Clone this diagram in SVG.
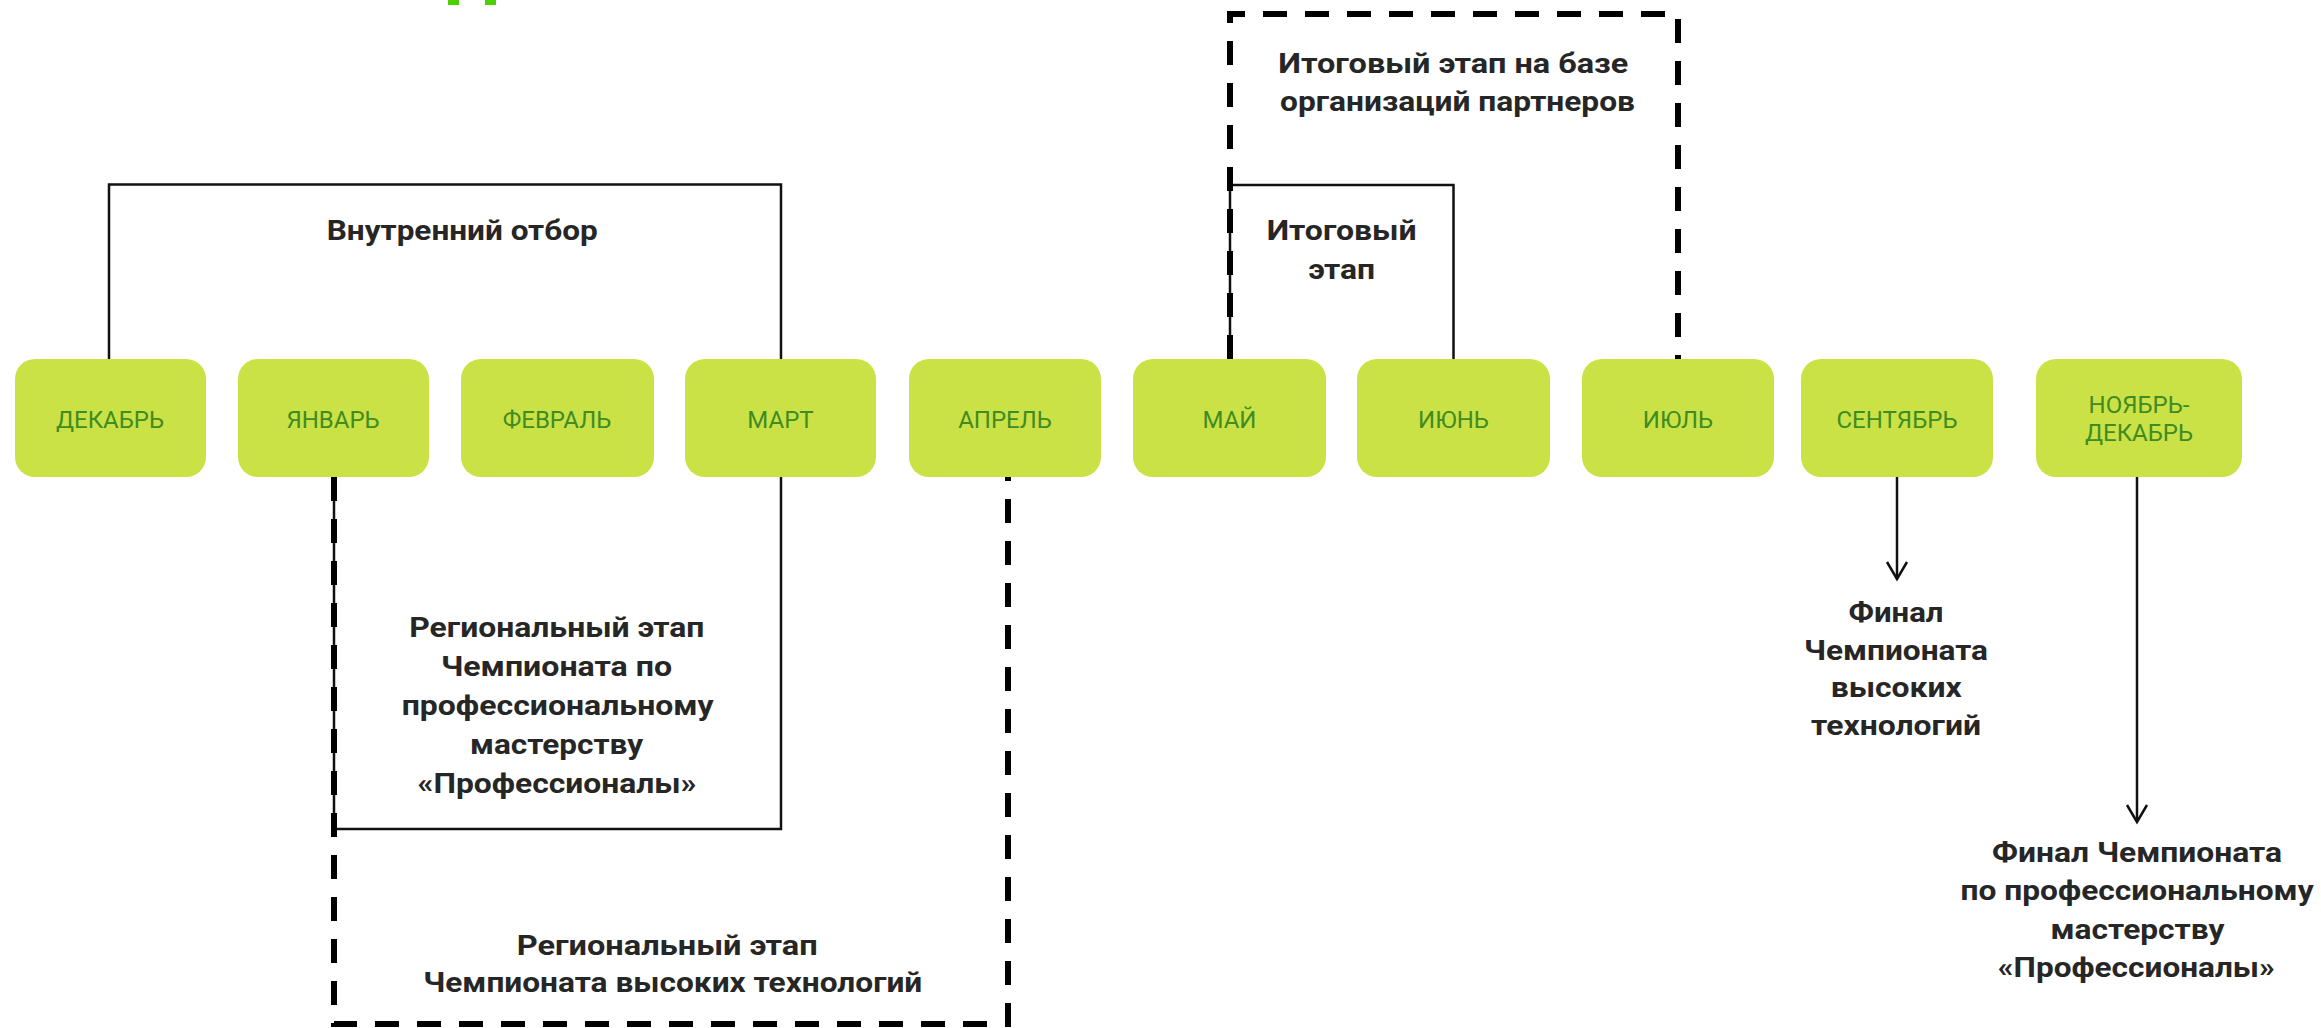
<svg xmlns="http://www.w3.org/2000/svg" width="2321" height="1028" viewBox="0 0 2321 1028">
<style>
.box{fill:#CBE246}
.lbl{font-family:Roboto,"Liberation Sans",sans-serif;font-size:24px;font-weight:400;fill:#3F8C22;text-anchor:middle}
.txt{font-family:Roboto,"Liberation Sans",sans-serif;font-size:28px;font-weight:700;fill:#262626}
.thin{fill:none;stroke:#111;stroke-width:2.5}
.dash{fill:none;stroke:#000;stroke-width:6;stroke-dasharray:24 18}
</style>
<defs>
<marker id="arr" markerUnits="userSpaceOnUse" markerWidth="30" markerHeight="30" viewBox="-20 -15 25 30" refX="0" refY="0" orient="auto">
<path d="M-17,-10 L0,0 L-17,10" fill="none" stroke="#111" stroke-width="2.5"/>
</marker>
</defs>
<rect x="448" y="0" width="11" height="5" fill="#4CD000"/>
<rect x="485" y="0" width="11" height="5" fill="#4CD000"/>
<g id="connectors">
<path class="thin" d="M109,359 V184.5 H781 V359"/>
<path class="thin" d="M334,477 V829 H781 V477"/>
<path class="thin" d="M1230,359 V185 H1453.5 V359"/>
<path class="dash" d="M334,477 V1024 H1008 V477"/>
<path class="dash" d="M1230,359 V14 H1678 V359"/>
<path class="thin" d="M1897,477 V579" marker-end="url(#arr)"/>
<path class="thin" d="M2137,477 V822" marker-end="url(#arr)"/>
</g>
<g id="m-dec"><rect class="box" x="15" y="359" width="191" height="118" rx="20"/><text class="lbl" x="110" y="428">ДЕКАБРЬ</text></g>
<g id="m-jan"><rect class="box" x="238" y="359" width="191" height="118" rx="20"/><text class="lbl" x="333" y="428">ЯНВАРЬ</text></g>
<g id="m-feb"><rect class="box" x="461" y="359" width="193" height="118" rx="20"/><text class="lbl" x="557" y="428">ФЕВРАЛЬ</text></g>
<g id="m-mar"><rect class="box" x="685" y="359" width="191" height="118" rx="20"/><text class="lbl" x="780.5" y="428">МАРТ</text></g>
<g id="m-apr"><rect class="box" x="909" y="359" width="192" height="118" rx="20"/><text class="lbl" x="1005" y="428">АПРЕЛЬ</text></g>
<g id="m-may"><rect class="box" x="1133" y="359" width="193" height="118" rx="20"/><text class="lbl" x="1229.5" y="428">МАЙ</text></g>
<g id="m-jun"><rect class="box" x="1357" y="359" width="193" height="118" rx="20"/><text class="lbl" x="1453.5" y="428">ИЮНЬ</text></g>
<g id="m-jul"><rect class="box" x="1582" y="359" width="192" height="118" rx="20"/><text class="lbl" x="1678" y="428">ИЮЛЬ</text></g>
<g id="m-sep"><rect class="box" x="1801" y="359" width="192" height="118" rx="20"/><text class="lbl" x="1897" y="428">СЕНТЯБРЬ</text></g>
<g id="m-novdec"><rect class="box" x="2036" y="359" width="206" height="118" rx="20"/><text class="lbl" x="2139" y="413">НОЯБРЬ-</text><text class="lbl" x="2139" y="441">ДЕКАБРЬ</text></g>
<g id="t-internal"><text class="txt" x="326.7" y="239.5" textLength="271" lengthAdjust="spacingAndGlyphs">Внутренний отбор</text></g>
<g id="t-regional-pro">
<text class="txt" x="409.3" y="636.7" textLength="295" lengthAdjust="spacingAndGlyphs">Региональный этап</text>
<text class="txt" x="441" y="675.5" textLength="231" lengthAdjust="spacingAndGlyphs">Чемпионата по</text>
<text class="txt" x="401.7" y="714.5" textLength="312" lengthAdjust="spacingAndGlyphs">профессиональному</text>
<text class="txt" x="470" y="753.5" textLength="173" lengthAdjust="spacingAndGlyphs">мастерству</text>
<text class="txt" x="417.5" y="792.5" textLength="279" lengthAdjust="spacingAndGlyphs">«Профессионалы»</text>
</g>
<g id="t-regional-ht">
<text class="txt" x="516.7" y="955" textLength="301" lengthAdjust="spacingAndGlyphs">Региональный этап</text>
<text class="txt" x="423.3" y="992" textLength="499" lengthAdjust="spacingAndGlyphs">Чемпионата высоких технологий</text>
</g>
<g id="t-final-partners">
<text class="txt" x="1278.3" y="72.7" textLength="350" lengthAdjust="spacingAndGlyphs">Итоговый этап на базе</text>
<text class="txt" x="1280" y="111" textLength="355" lengthAdjust="spacingAndGlyphs">организаций партнеров</text>
</g>
<g id="t-final-stage">
<text class="txt" x="1266.7" y="240" textLength="150" lengthAdjust="spacingAndGlyphs">Итоговый</text>
<text class="txt" x="1308.3" y="279" textLength="66.7" lengthAdjust="spacingAndGlyphs">этап</text>
</g>
<g id="t-final-ht">
<text class="txt" x="1848.5" y="621.6" textLength="95" lengthAdjust="spacingAndGlyphs">Финал</text>
<text class="txt" x="1804" y="659.5" textLength="184" lengthAdjust="spacingAndGlyphs">Чемпионата</text>
<text class="txt" x="1830.7" y="697" textLength="131" lengthAdjust="spacingAndGlyphs">высоких</text>
<text class="txt" x="1811" y="735" textLength="170" lengthAdjust="spacingAndGlyphs">технологий</text>
</g>
<g id="t-final-pro">
<text class="txt" x="1992" y="862" textLength="290" lengthAdjust="spacingAndGlyphs">Финал Чемпионата</text>
<text class="txt" x="1960.6" y="900" textLength="353" lengthAdjust="spacingAndGlyphs">по профессиональному</text>
<text class="txt" x="2050.5" y="938.5" textLength="174" lengthAdjust="spacingAndGlyphs">мастерству</text>
<text class="txt" x="1997.8" y="977" textLength="277" lengthAdjust="spacingAndGlyphs">«Профессионалы»</text>
</g>
</svg>
